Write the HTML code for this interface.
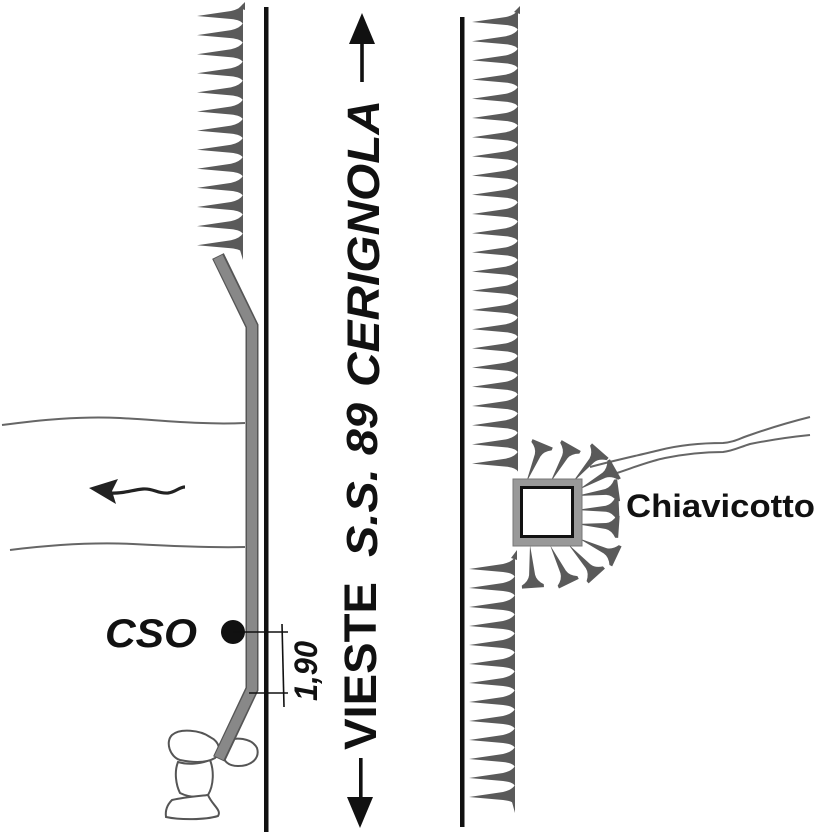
<!DOCTYPE html>
<html><head><meta charset="utf-8"><style>
html,body{margin:0;padding:0;background:#fff;}
svg{display:block;}
</style></head><body>
<svg width="828" height="832" viewBox="0 0 828 832" xmlns="http://www.w3.org/2000/svg">
<defs>
<path id="t" d="M0,0 L34,-5 Q43,-7 46,-12 L46,8 Q44,4 34,3 Z" fill="#5a5a5a"/>
<path id="f" d="M0,0 L30,-3 Q36,-4 40,-11 L43,-11 L43,11 L40,11 Q36,4 30,3 Z" fill="#5a5a5a"/>
</defs>
<rect width="828" height="832" fill="#fff"/>

<!-- left hedge -->
<g>
<use href="#t" x="197" y="16"/><use href="#t" x="197" y="35.1"/><use href="#t" x="197" y="54.2"/><use href="#t" x="197" y="73.3"/><use href="#t" x="197" y="92.4"/><use href="#t" x="197" y="111.5"/><use href="#t" x="197" y="130.6"/><use href="#t" x="197" y="149.7"/><use href="#t" x="197" y="168.8"/><use href="#t" x="197" y="187.9"/><use href="#t" x="197" y="207"/><use href="#t" x="197" y="226.1"/><use href="#t" x="197" y="245.2"/>
<polygon points="239,8 245,2 245,10" fill="#5a5a5a"/>
<polygon points="240,250 243,250 243,260" fill="#5a5a5a"/>
</g>

<!-- right upper hedge -->
<g>
<use href="#t" x="472" y="22"/><use href="#t" x="472" y="41.2"/><use href="#t" x="472" y="60.4"/><use href="#t" x="472" y="79.6"/><use href="#t" x="472" y="98.8"/><use href="#t" x="472" y="118"/><use href="#t" x="472" y="137.2"/><use href="#t" x="472" y="156.4"/><use href="#t" x="472" y="175.6"/><use href="#t" x="472" y="194.8"/><use href="#t" x="472" y="214"/><use href="#t" x="472" y="233.2"/><use href="#t" x="472" y="252.4"/><use href="#t" x="472" y="271.6"/><use href="#t" x="472" y="290.8"/><use href="#t" x="472" y="310"/><use href="#t" x="472" y="329.2"/><use href="#t" x="472" y="348.4"/><use href="#t" x="472" y="367.6"/><use href="#t" x="472" y="386.8"/><use href="#t" x="472" y="406"/><use href="#t" x="472" y="425.2"/><use href="#t" x="472" y="444.4"/><use href="#t" x="472" y="463.6"/>
<polygon points="514,12 520,6 520,14" fill="#5a5a5a"/>
</g>

<!-- right lower hedge -->
<g>
<use href="#t" x="469" y="569"/><use href="#t" x="469" y="588"/><use href="#t" x="469" y="607"/><use href="#t" x="469" y="626"/><use href="#t" x="469" y="645"/><use href="#t" x="469" y="664"/><use href="#t" x="469" y="683"/><use href="#t" x="469" y="702"/><use href="#t" x="469" y="721"/><use href="#t" x="469" y="740"/><use href="#t" x="469" y="759"/><use href="#t" x="469" y="778"/><use href="#t" x="469" y="797"/>
<polygon points="511,558 517,550 517,560" fill="#5a5a5a"/>
<polygon points="512,802 515,802 515,813" fill="#5a5a5a"/>
</g>

<!-- road edge lines -->
<rect x="264" y="7" width="4.5" height="825" fill="#111"/>
<rect x="460" y="17" width="4.5" height="810" fill="#111"/>

<!-- left river lines -->
<path d="M2,425 C40,420 80,416 120,418 C160,420 200,425 245,423" fill="none" stroke="#666" stroke-width="2"/>
<path d="M10,550 C50,545 90,542 133,544 C170,546 210,548 245,547" fill="none" stroke="#666" stroke-width="2"/>

<!-- flow arrow -->
<polygon points="89,488 118,479 112,491 116,504" fill="#222"/>
<path d="M110,493 C122,494 132,490 143,489 C153,488 158,494 168,493 C176,492 179,487 185,487" fill="none" stroke="#222" stroke-width="3.2"/>

<!-- stones -->
<g fill="#fff" stroke="#555" stroke-width="2">
<path d="M225,742 C235,736 252,738 257,748 C260,758 252,766 238,766 C228,766 222,760 225,755 Z"/>
<path d="M178,762 C188,765 200,764 210,760 C214,770 214,785 208,795 C198,798 188,797 180,793 C176,785 174,772 178,762 Z"/>
<path d="M172,800 C185,797 200,796 208,795 C212,805 222,810 218,816 C205,820 180,820 166,817 C165,810 168,804 172,800 Z"/>
<path d="M172,735 C180,728 200,730 210,737 C220,742 222,752 215,758 C205,764 190,762 180,760 C170,757 165,742 172,735 Z"/>
</g>

<!-- guardrail -->
<polyline points="218,256 252,326 252,689 219,759" fill="none" stroke="#555" stroke-width="13" stroke-linejoin="miter"/>
<polyline points="218,257 252,326 252,689 219,758" fill="none" stroke="#888" stroke-width="10" stroke-linejoin="miter"/>

<!-- CSO -->
<circle cx="233" cy="632" r="12" fill="#111"/>
<line x1="233" y1="632" x2="288" y2="632" stroke="#111" stroke-width="1.6"/>
<line x1="249" y1="693" x2="288" y2="693" stroke="#111" stroke-width="1.6"/>
<line x1="282" y1="624" x2="284" y2="707" stroke="#111" stroke-width="1.6"/>
<text x="105" y="647" font-family="Liberation Sans, sans-serif" font-weight="bold" font-style="italic" font-size="40" textLength="92" lengthAdjust="spacingAndGlyphs" fill="#111">CSO</text>
<text transform="translate(317,701) rotate(-90)" font-family="Liberation Sans, sans-serif" font-weight="bold" font-style="italic" font-size="32" textLength="60" lengthAdjust="spacingAndGlyphs" fill="#111">1,90</text>

<!-- road labels -->
<text transform="translate(379,387) rotate(-90)" font-family="Liberation Sans, sans-serif" font-weight="bold" font-style="italic" font-size="45" textLength="287" lengthAdjust="spacingAndGlyphs" fill="#111">CERIGNOLA</text>
<text transform="translate(377,557) rotate(-90)" font-family="Liberation Sans, sans-serif" font-weight="bold" font-style="italic" font-size="44" textLength="154" lengthAdjust="spacingAndGlyphs" fill="#111">S.S. 89</text>
<text transform="translate(376,750) rotate(-90)" font-family="Liberation Sans, sans-serif" font-weight="bold" font-size="45" textLength="168" lengthAdjust="spacingAndGlyphs" fill="#111">VIESTE</text>

<!-- direction arrows -->
<rect x="360.2" y="40" width="3.6" height="42" fill="#111"/>
<polygon points="362,13 349,44 375,44" fill="#111"/>
<rect x="359" y="758" width="3.6" height="42" fill="#111"/>
<polygon points="347,797 373,797 360,828" fill="#111"/>

<!-- stream lines on right -->
<path d="M590,467 C620,459 640,455 660,450 C680,445 700,443 723,443 C735,442 740,438 750,435 C770,428 790,422 810,417" fill="none" stroke="#666" stroke-width="2"/>
<path d="M617,473 C635,467 650,461 665,458 C680,455 700,452 723,452 C733,451 740,447 750,444 C770,440 790,437 810,435" fill="none" stroke="#666" stroke-width="2"/>

<!-- fan teeth around culvert -->
<g>
<use href="#f" transform="translate(526,483) rotate(-67.2)"/>
<use href="#f" transform="translate(550,483) rotate(-60.4)"/>
<use href="#f" transform="translate(572,483) rotate(-48.8)"/>
<use href="#f" transform="translate(578,490) rotate(-29.6)"/>
<use href="#f" transform="translate(576,496) rotate(-7.8)"/>
<use href="#f" transform="translate(576,510) rotate(-2.5)"/>
<use href="#f" transform="translate(576,524) rotate(3.9)"/>
<use href="#f" transform="translate(578,538) rotate(25.3)"/>
<use href="#f" transform="translate(568,544) rotate(48)"/>
<use href="#f" transform="translate(550,545) rotate(64)"/>
<use href="#f" transform="translate(530,545) rotate(86)"/>
</g>

<!-- culvert -->
<rect x="513" y="479" width="69" height="67" fill="#999" stroke="#777" stroke-width="1"/>
<rect x="521.5" y="487.5" width="51" height="49" fill="#fff" stroke="#111" stroke-width="3"/>
<text x="626" y="517" font-family="Liberation Sans, sans-serif" font-weight="bold" font-size="32" textLength="189" lengthAdjust="spacingAndGlyphs" fill="#111">Chiavicotto</text>
</svg>
</body></html>
